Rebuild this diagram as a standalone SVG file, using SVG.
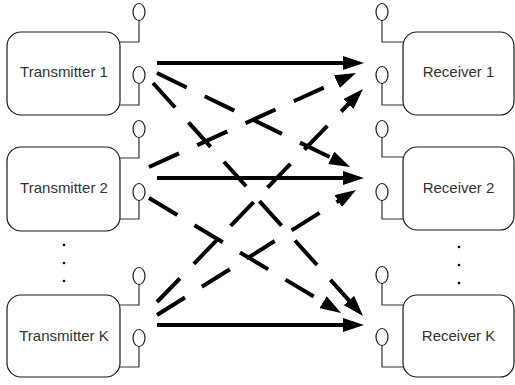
<svg xmlns="http://www.w3.org/2000/svg" width="515" height="385" viewBox="0 0 515 385">
<defs>
<style>
.box{fill:#fff;stroke:#1a1a1a;stroke-width:1.2}
.lbl{font-family:"Liberation Sans",Arial,sans-serif;font-size:15px;fill:#333;text-anchor:middle}
.ant{fill:#fff;stroke:#1a1a1a;stroke-width:1.2}
.wire{fill:none;stroke:#333;stroke-width:1.2}
.solid{stroke:#000;stroke-width:4;fill:none;marker-end:url(#ah)}
.dash{stroke:#000;stroke-width:4;fill:none;stroke-dasharray:33 20;marker-end:url(#ah)}
.dot{fill:#000}
</style>
<marker id="ah" viewBox="0 0 21 14" markerUnits="userSpaceOnUse" markerWidth="21" markerHeight="14" refX="2" refY="7" orient="auto">
<path d="M0,0 L21,7 L0,14 z" fill="#000"/>
</marker>
</defs>

<g id="tx1">
<rect class="box" x="7" y="32" width="113" height="83" rx="14"/>
<text class="lbl" x="64" y="77">Transmitter 1</text>
<path class="wire" d="M139,20 V42 H120 M139,83 V105 H120"/>
<ellipse class="ant" cx="139" cy="12" rx="6" ry="8.5"/>
<ellipse class="ant" cx="139" cy="75" rx="6" ry="8.5"/>
</g>
<g id="tx2">
<rect class="box" x="7" y="147" width="113" height="84" rx="14"/>
<text class="lbl" x="64" y="193">Transmitter 2</text>
<path class="wire" d="M139,137 V158 H120 M139,200 V219 H120"/>
<ellipse class="ant" cx="139" cy="129" rx="6" ry="8.5"/>
<ellipse class="ant" cx="139" cy="192" rx="6" ry="8.5"/>
</g>
<g id="txk">
<rect class="box" x="7" y="295" width="113" height="82" rx="14"/>
<text class="lbl" x="64" y="341">Transmitter K</text>
<path class="wire" d="M139,284 V305 H120 M139,346 V367 H120"/>
<ellipse class="ant" cx="139" cy="276" rx="6" ry="8.5"/>
<ellipse class="ant" cx="139" cy="338" rx="6" ry="8.5"/>
</g>
<g id="tx-dots">
<circle class="dot" cx="64" cy="245" r="1.3"/>
<circle class="dot" cx="64" cy="263" r="1.3"/>
<circle class="dot" cx="64" cy="281" r="1.3"/>
</g>

<g id="rx1">
<rect class="box" x="403" y="32" width="111" height="83" rx="14"/>
<text class="lbl" x="458.5" y="77">Receiver 1</text>
<path class="wire" d="M382,20 V42 H403 M382,83 V105 H403"/>
<ellipse class="ant" cx="382" cy="12" rx="6" ry="8.5"/>
<ellipse class="ant" cx="382" cy="75" rx="6" ry="8.5"/>
</g>
<g id="rx2">
<rect class="box" x="403" y="147" width="111" height="83" rx="14"/>
<text class="lbl" x="458.5" y="193">Receiver 2</text>
<path class="wire" d="M382,137 V157 H403 M382,200 V219 H403"/>
<ellipse class="ant" cx="382" cy="129" rx="6" ry="8.5"/>
<ellipse class="ant" cx="382" cy="192" rx="6" ry="8.5"/>
</g>
<g id="rxk">
<rect class="box" x="403" y="295" width="111" height="82" rx="14"/>
<text class="lbl" x="458.5" y="341">Receiver K</text>
<path class="wire" d="M382,283 V305 H403 M382,345 V367 H403"/>
<ellipse class="ant" cx="382" cy="275" rx="6" ry="8.5"/>
<ellipse class="ant" cx="382" cy="337" rx="6" ry="8.5"/>
</g>
<g id="rx-dots">
<circle class="dot" cx="459" cy="247" r="1.3"/>
<circle class="dot" cx="459" cy="265" r="1.3"/>
<circle class="dot" cx="459" cy="283" r="1.3"/>
</g>

<g id="connectors">
<line class="solid" x1="157" y1="63" x2="345" y2="63"/>
<line class="solid" x1="157" y1="178" x2="345" y2="178"/>
<line class="solid" x1="157" y1="325" x2="345" y2="325"/>
<line class="dash" x1="157" y1="73" x2="333" y2="158.7"/>
<line class="dash" x1="153" y1="83" x2="350.3" y2="301.9"/>
<line class="dash" x1="149" y1="167" x2="338.7" y2="80.8"/>
<line class="dash" x1="149" y1="198" x2="324.8" y2="303.2"/>
<line class="dash" x1="157" y1="302" x2="349.8" y2="102.6"/>
<line class="dash" x1="157" y1="315" x2="339.9" y2="200.1"/>
</g>
</svg>
